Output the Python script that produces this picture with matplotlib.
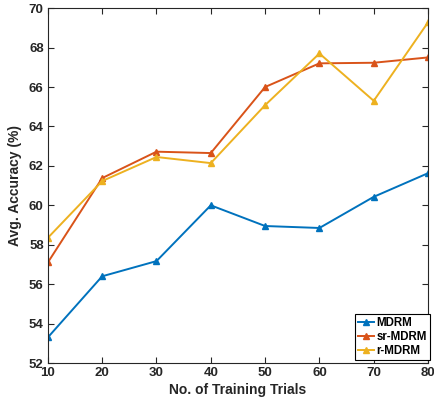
import matplotlib
matplotlib.use('Agg')
import matplotlib.pyplot as plt

trials = [10, 20, 30, 40, 50, 60, 70, 80]
mdrm = [53.3, 56.4, 57.17, 60.0, 58.95, 58.85, 60.43, 61.63]
sr_mdrm = [57.1, 61.38, 62.72, 62.65, 66.0, 67.2, 67.23, 67.5]
r_mdrm = [58.35, 61.23, 62.45, 62.14, 65.08, 67.7, 65.3, 69.28]

plt.rcParams['font.family'] = ['Liberation Sans', 'DejaVu Sans']
plt.rcParams['font.weight'] = 'bold'

fig = plt.figure(figsize=(4.35, 4.07), dpi=100)
ax = fig.add_axes([0.110, 0.108, 0.874, 0.872])

ax.plot(trials, mdrm, color='#0072BD', marker='^', markersize=4, linewidth=1.4, label='MDRM')
ax.plot(trials, sr_mdrm, color='#D95319', marker='^', markersize=4, linewidth=1.4, label='sr-MDRM')
ax.plot(trials, r_mdrm, color='#EDB120', marker='^', markersize=4, linewidth=1.4, label='r-MDRM')

ax.set_xlim(10, 80)
ax.set_ylim(52, 70)
ax.set_xticks(trials)
ax.set_yticks(range(52, 71, 2))
ax.tick_params(direction='in', top=True, right=True, labelsize=9.5, colors='#262626', length=4, pad=3)
for s in ax.spines.values():
    s.set_color('#262626')
    s.set_linewidth(0.8)

ax.set_xlabel('No. of Training Trials', fontsize=10, fontweight='bold', color='#262626', labelpad=3)
ax.set_ylabel('Avg. Accuracy (%)', fontsize=10, fontweight='bold', color='#262626', labelpad=5)

leg = ax.legend(loc='lower right', bbox_to_anchor=(1.005, 0.008), fontsize=8.3, fancybox=False,
                framealpha=1, edgecolor='black', borderpad=0.25, labelspacing=0.2,
                handlelength=1.4, handletextpad=0.2, borderaxespad=0.0)
leg.get_frame().set_linewidth(0.8)

fig.savefig('out.png', dpi=100)
